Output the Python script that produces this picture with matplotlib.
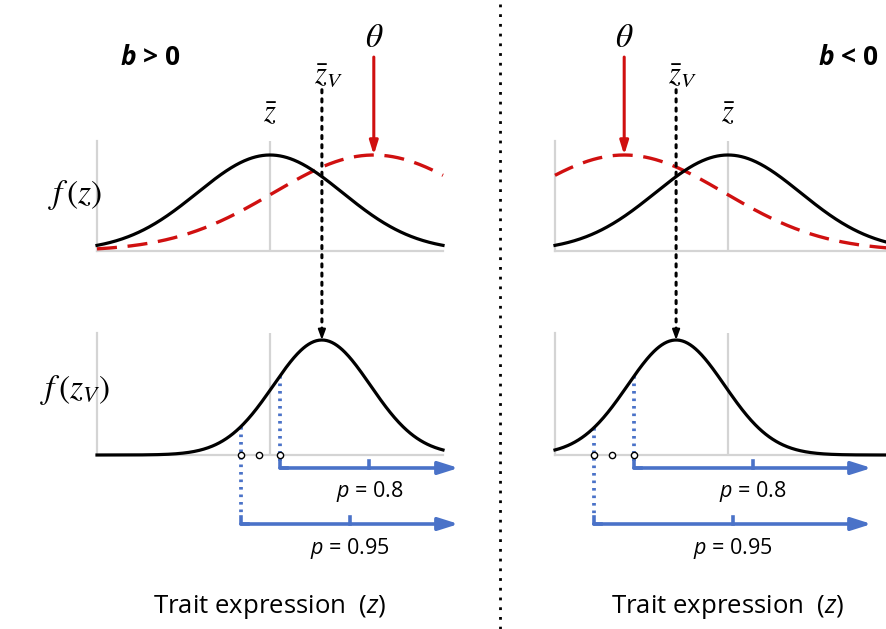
import matplotlib
matplotlib.use("Agg")
import matplotlib.pyplot as plt
import numpy as np
from matplotlib.lines import Line2D
from matplotlib.patches import ConnectionPatch

# ---------------- data (trait units, panel x range 0..1) ----------------
panels = ["b > 0", "b < 0"]
zbar = [0.5, 0.5]            # mean phenotype
theta = [0.80, 0.20]         # optimum
zbar_v = [0.65, 0.35]        # mean of viable distribution
sd_z = [0.21, 0.21]          # sd of f(z)
sd_theta = [0.29, 0.29]      # width of fitness curve
sd_v = [0.14, 0.14]          # sd of f(z_V)
thr_p95 = [0.416, 0.112]     # thresholds (p = 0.95)
thr_p90 = [0.468, 0.165]     # middle marker
thr_p80 = [0.529, 0.228]     # thresholds (p = 0.8)
arrow_end = [1.045, 0.915]
p_labels = ["0.8", "0.95"]

RED = "#D01010"
BLUE = "#4A72C8"
GRAY = "#D4D4D4"

plt.rcParams["mathtext.fontset"] = "custom"
plt.rcParams["mathtext.rm"] = "Open Sans"
plt.rcParams["mathtext.it"] = "Open Sans:italic"
plt.rcParams["mathtext.bf"] = "Open Sans:bold"
plt.rcParams["mathtext.bfit"] = "Open Sans:italic:bold"

W, H = 886, 629
fig = plt.figure(figsize=(W / 100, H / 100), dpi=100)

def gauss(x, m, s):
    return np.exp(-(x - m) ** 2 / (2 * s ** 2))

lefts = [97, 555]
for i in range(2):
    L = lefts[i]
    axT = fig.add_axes([L / W, (H - 251) / H, 346 / W, 110 / H])
    axB = fig.add_axes([L / W, (H - 455) / H, 346 / W, 122 / H])
    axT.set_xlim(0, 1); axT.set_ylim(0, 110 / 96)
    axB.set_xlim(0, 1); axB.set_ylim(0, 122 / 115)
    for ax in (axT, axB):
        ax.set_xticks([]); ax.set_yticks([])
        for s in ("top", "right"):
            ax.spines[s].set_visible(False)
        for s in ("left", "bottom"):
            ax.spines[s].set_color(GRAY)
            ax.spines[s].set_linewidth(1.6)
        ax.patch.set_alpha(0)
        ax.axvline(zbar[i], color=GRAY, lw=1.6, zorder=0)

    x = np.linspace(0, 1.0, 400)
    # top panel
    axT.plot(x, gauss(x, theta[i], sd_theta[i]), color=RED, lw=2.4,
             dashes=(6, 3.2), clip_on=False, zorder=3)
    axT.plot(x, gauss(x, zbar[i], sd_z[i]), color="black", lw=2.3,
             clip_on=False, zorder=4)
    # bottom panel
    axB.plot(x, gauss(x, zbar_v[i], sd_v[i]), color="black", lw=2.3,
             clip_on=False, zorder=4)

    # labels above
    axT.text(zbar[i], 1.28, r"$\bar{z}$", math_fontfamily="stix",
             fontsize=22, ha="center", va="bottom")
    axT.text(zbar_v[i] + 0.02, 1.68, r"$\bar{z}_{V}$", math_fontfamily="stix",
             fontsize=22, ha="center", va="bottom")
    axT.text(theta[i], 2.05, r"$\theta$", math_fontfamily="stix",
             fontsize=24, ha="center", va="bottom")
    axT.annotate("", xy=(theta[i], 1.0), xytext=(theta[i], 2.02),
                 arrowprops=dict(arrowstyle="-|>,head_length=0.8,head_width=0.25",
                                 color=RED, lw=2.2, shrinkA=0, shrinkB=0),
                 annotation_clip=False)
    bx = 0.153 if i == 0 else 0.847
    lab = r"$\mathbfit{b}$ > 0" if i == 0 else r"$\mathbfit{b}$ < 0"
    axT.text(bx, 2.02, lab, fontsize=19, fontweight="bold",
             family="Open Sans", ha="center", va="center")

    # dotted link z_V
    con = ConnectionPatch(xyA=(zbar_v[i], 1.68), coordsA=axT.transData,
                          xyB=(zbar_v[i], 1.06), coordsB=axB.transData,
                          color="black", lw=2.2, linestyle=(0, (1, 2)))
    fig.add_artist(con)
    axB.annotate("", xy=(zbar_v[i], 1.0), xytext=(zbar_v[i], 1.09),
                 arrowprops=dict(arrowstyle="-|>,head_length=0.6,head_width=0.22",
                                 color="black", lw=1.5, shrinkA=0, shrinkB=0),
                 annotation_clip=False)

    # thresholds
    for thr, ya, yl, lbl in ((thr_p80[i], -0.113, -0.32, p_labels[0]),
                             (thr_p95[i], -0.60, -0.81, p_labels[1])):
        ytop = gauss(thr, zbar_v[i], sd_v[i])
        axB.plot([thr, thr], [ytop, ya + 0.06], color=BLUE, lw=2.7,
                 linestyle=(0, (0.7, 1.3)), clip_on=False, zorder=2)
        axB.plot([thr, thr, thr + 0.02], [ya + 0.06, ya, ya], color=BLUE,
                 lw=2.6, clip_on=False, solid_joinstyle="round")
        axB.annotate("", xy=(arrow_end[i], ya), xytext=(thr, ya),
                     arrowprops=dict(arrowstyle="-|>,head_length=1.2,head_width=0.38",
                                     color=BLUE, lw=2.6, shrinkA=0, shrinkB=0),
                     annotation_clip=False)
        mid = (thr + arrow_end[i]) / 2
        axB.plot([mid, mid], [ya, ya + 0.06], color=BLUE, lw=2.6, clip_on=False)
        axB.text(mid, yl, r"$p$ = " + lbl, fontsize=15.5, family="Open Sans",
                 ha="center", va="center")
    axB.plot([thr_p95[i], thr_p90[i], thr_p80[i]], [0, 0, 0], "o",
             ms=4.5, mfc="white", mec="black", mew=1.0, ls="none",
             clip_on=False, zorder=6)

    axB.text(zbar[i], -1.32, r"Trait expression  ($z$)", fontsize=18.5,
             family="Open Sans", ha="center", va="center")

    if i == 0:
        axT.text(-0.064, 0.58, r"$f\,(z)$", math_fontfamily="stix",
                 fontsize=24, ha="center", va="center")
        axB.text(-0.064, 0.565, r"$f\,(z_{V})$", math_fontfamily="stix",
                 fontsize=24, ha="center", va="center")

fig.add_artist(Line2D([500 / W, 500 / W], [0, 1], transform=fig.transFigure,
                      color="black", lw=2.0, linestyle=(0, (1, 2.5))))

fig.savefig("out.png", dpi=100)
